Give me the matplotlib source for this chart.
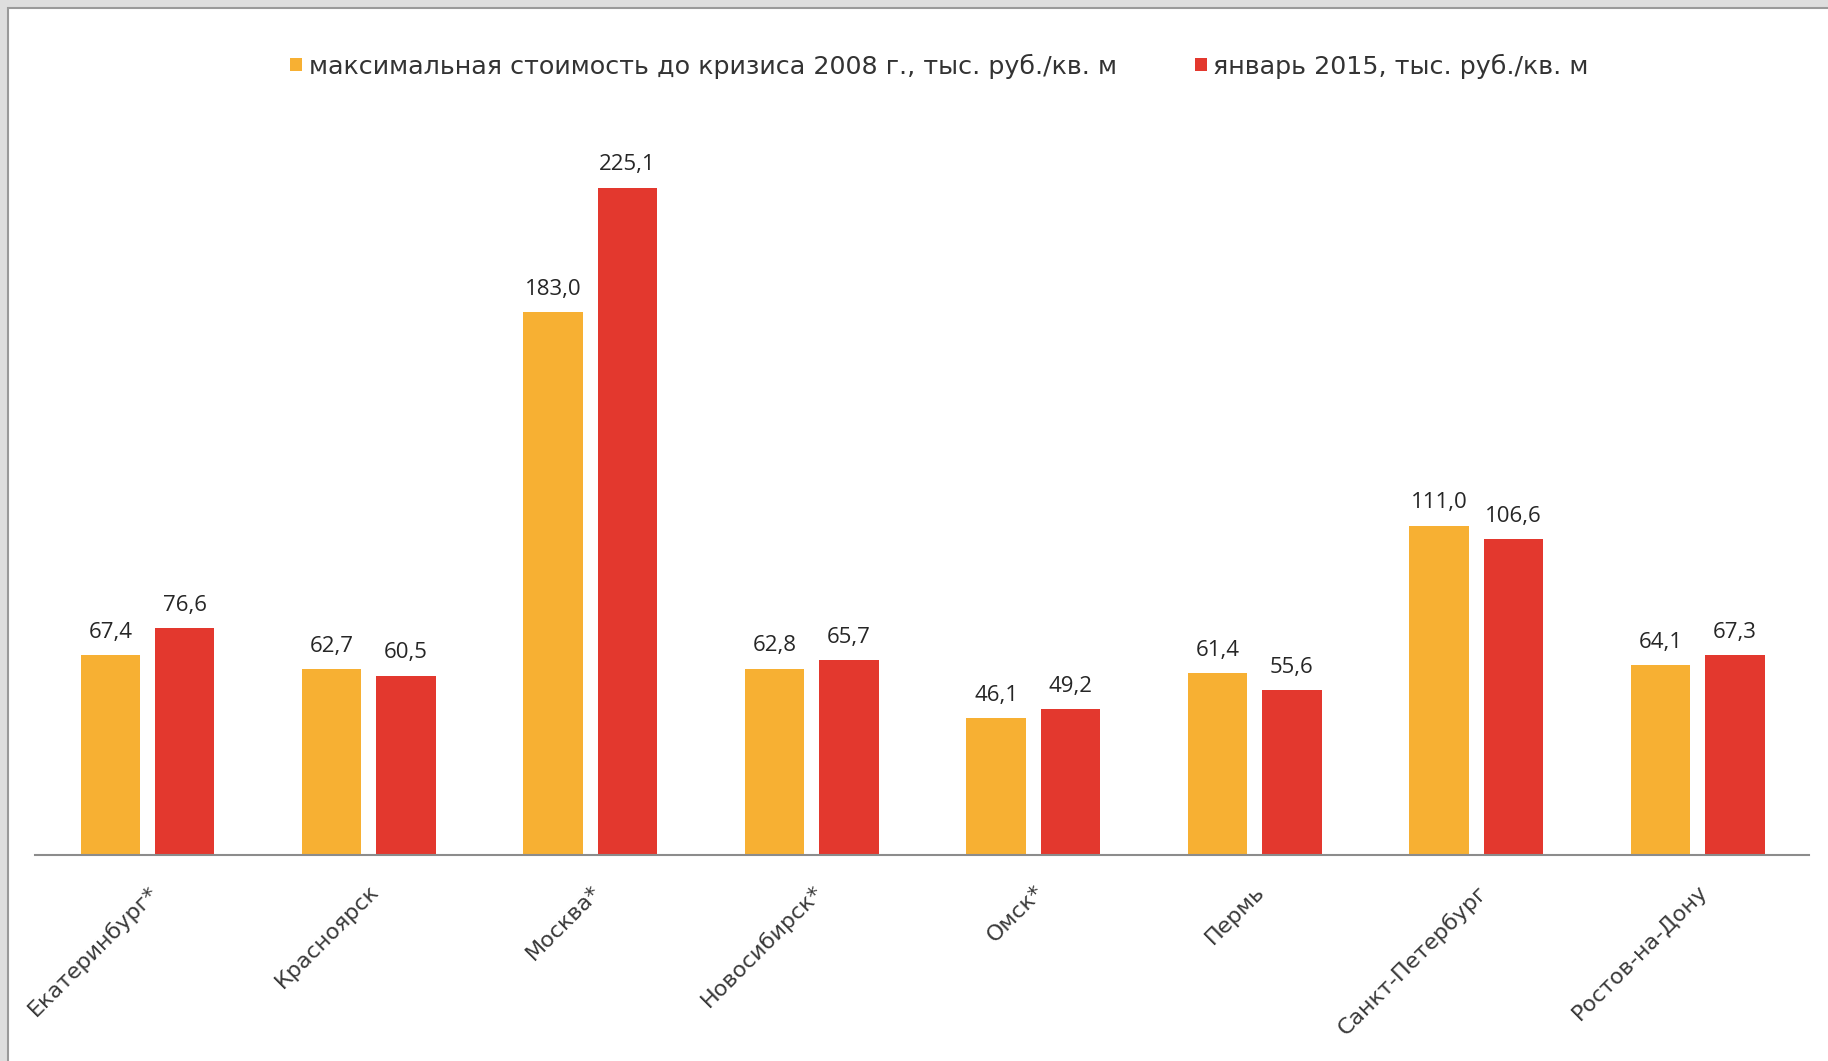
import matplotlib
matplotlib.use("Agg")
import matplotlib.pyplot as plt
import numpy as np
from matplotlib.patches import Rectangle

cities = ["Екатеринбург*", "Красноярск", "Москва*", "Новосибирск*", "Омск*",
          "Пермь", "Санкт-Петербург", "Ростов-на-Дону"]
pre_crisis_2008 = [67.4, 62.7, 183.0, 62.8, 46.1, 61.4, 111.0, 64.1]
jan_2015 = [76.6, 60.5, 225.1, 65.7, 49.2, 55.6, 106.6, 67.3]
series_names = ["максимальная стоимость до кризиса 2008 г., тыс. руб./кв. м",
                "январь 2015, тыс. руб./кв. м"]

W, H = 1828, 1061
fig = plt.figure(figsize=(W / 100, H / 100), dpi=100)
fig.patch.set_facecolor("#dedede")
fig.patches.append(Rectangle((8 / W, -0.01), 1.02, 1 - 8 / H + 0.01,
                             transform=fig.transFigure, facecolor="white",
                             edgecolor="#9a9a9a", linewidth=1.5, zorder=-10))

ax = fig.add_axes([35 / W, (H - 855) / H, (1809 - 35) / W, (855 - 130) / H])
ax.set_zorder(5)
ax.set_facecolor("none")

x = np.arange(len(cities))
bw = 0.2687
off = 0.168
orange = "#F7B033"
red = "#E3382E"
b1 = ax.bar(x - off, pre_crisis_2008, bw, color=orange, label=series_names[0])
b2 = ax.bar(x + off, jan_2015, bw, color=red, label=series_names[1])

lab_font = dict(family=["Open Sans", "DejaVu Sans"], size=16, color="#262626")
for bars, vals in ((b1, pre_crisis_2008), (b2, jan_2015)):
    for rect, v in zip(bars, vals):
        ax.annotate(f"{v:.1f}".replace(".", ","),
                    (rect.get_x() + rect.get_width() / 2, rect.get_height()),
                    xytext=(0, 12.5), textcoords="offset points",
                    ha="center", va="baseline", **lab_font)

ax.set_xlim(-0.508, 7.503)
ax.set_ylim(0, 244.5)
for s in ("top", "right", "left"):
    ax.spines[s].set_visible(False)
ax.spines["bottom"].set_color("#8c8c8c")
ax.spines["bottom"].set_linewidth(1.5)
ax.set_yticks([])
ax.set_xticks(x)
ax.set_xticklabels(cities, rotation=45, ha="right", va="top",
                   rotation_mode="anchor", family=["DejaVu Sans"],
                   fontsize=16, color="#3a3a3a")
ax.tick_params(axis="x", length=0, pad=19)

leg = ax.legend(handles=[b1, b2], loc="center", bbox_to_anchor=(0.514, 1 - 66 / H),
                bbox_transform=fig.transFigure, ncol=2, frameon=False,
                handlelength=0.46, handleheight=0.46, handletextpad=0.25,
                columnspacing=3.1,
                prop=dict(family=["DejaVu Sans"], size=18.3))
for t in leg.get_texts():
    t.set_color("#333333")

fig.savefig("out.png", dpi=100, facecolor=fig.get_facecolor())
